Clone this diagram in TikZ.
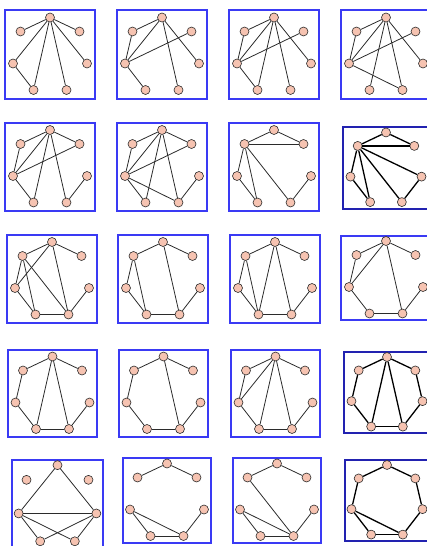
\documentclass[tikz,border=0pt]{standalone}
\usepackage{tikz}
\definecolor{kutuMavi}{HTML}{3A3AF4}
\definecolor{koyuMavi}{HTML}{2222B0}
\definecolor{somon}{HTML}{F6C3B1}
\definecolor{kenarGri}{HTML}{2B2B2B}
\tikzset{
  kutu/.style={kutuMavi,line width=1.2pt},
  koyukutu/.style={koyuMavi,line width=1.4pt},
  kenar/.style={kenarGri,line width=0.8pt},
  kalinkenar/.style={black,line width=1.3pt},
  tepe/.style={circle,draw=kenarGri,fill=somon,line width=0.6pt,minimum size=9pt,inner sep=0pt},
}
% #1 ad, #2 merkez, #3 olcek, #4/#5 kutu yari genislik/yukseklik, #6 kenar stili, #7 kutu stili, #8 kenarlar
\newcommand{\graf}[8]{%
  \begin{scope}[shift={#2}]
    \draw[#7] (-#4,-#5) rectangle (#4,#5);
    \begin{scope}[scale=#3]
      \foreach \i/\px/\py in {0/0/-37,1/-29.5/-23,2/29.5/-23,3/-37/9,4/37/9,5/-16.5/35.5,6/16.5/35.5}
        \node[tepe] (#1v\i) at (\px,\py) {};
    \end{scope}
    \foreach \a/\b in {#8}
      \draw[#6] (#1v\a) -- (#1v\b);
  \end{scope}}

\begin{document}
\begin{tikzpicture}[x=1pt,y=-1pt]
\useasboundingbox (0,0) rectangle (426,546);
% satir 1
\graf{a}{(50,54.5)}{1}{45}{44.5}{kenar}{kutu}{0/1,0/2,0/3,0/4,0/5,0/6,3/5}
\graf{b}{(162,54.5)}{1}{45}{44.5}{kenar}{kutu}{0/1,0/3,0/4,0/6,1/3,2/3,3/5}
\graf{c}{(274,54.5)}{1}{45}{44.5}{kenar}{kutu}{0/1,0/3,0/4,0/5,0/6,1/3,2/3,3/5}
\graf{d}{(386,54.5)}{1}{45}{44.5}{kenar}{kutu}{0/1,0/3,0/4,0/5,0/6,1/3,2/3,3/6}
% satir 2
\graf{e}{(50,167)}{1}{45}{44}{kenar}{kutu}{0/1,0/2,0/3,0/5,0/6,1/3,2/3,3/5,4/6}
\graf{f}{(162,167)}{1}{45}{44}{kenar}{kutu}{0/1,0/2,0/3,0/5,0/6,1/3,2/3,3/5,3/6,4/6}
\graf{g}{(274,167)}{1}{45}{44}{kenar}{kutu}{0/1,0/2,1/2,1/3,1/5,1/6,3/5,4/6}
\graf{h}{(386,168)}{0.96}{43}{41}{kalinkenar}{koyukutu}{0/1,0/2,1/2,1/3,1/5,1/6,1/4,3/5,4/6}
% satir 3
\graf{i}{(52,279)}{1}{45}{44}{kenar}{kutu}{0/1,0/2,0/3,0/6,1/3,1/5,1/6,3/5,5/6,4/6}
\graf{j}{(163,279)}{1}{45}{44}{kenar}{kutu}{0/1,0/2,0/6,1/3,1/5,3/5,5/6,4/6}
\graf{k}{(275,279)}{1}{45}{44}{kenar}{kutu}{0/1,0/2,0/5,0/6,1/3,1/5,3/5,5/6,4/6}
\graf{l}{(386,278)}{1}{45}{42}{kenar}{kutu}{0/1,0/2,0/3,0/6,1/3,3/5,5/6,4/6}
% satir 4
\graf{m}{(52.5,393.5)}{1}{44.5}{43.5}{kenar}{kutu}{0/1,0/2,0/5,0/6,1/3,3/5,5/6,4/6}
\graf{n}{(163.5,393.5)}{1}{44.5}{43.5}{kenar}{kutu}{0/1,0/2,0/6,1/3,3/5,5/6,4/6}
\graf{o}{(275.5,393.5)}{1}{44.5}{43.5}{kenar}{kutu}{0/1,0/2,0/3,0/5,0/6,1/3,3/5,5/6,4/6}
\graf{p}{(387,392.5)}{0.96}{43}{40.5}{kalinkenar}{koyukutu}{0/1,0/2,0/5,0/6,1/3,2/4,3/5,5/6,4/6}
% satir 5
\graf{q}{(57.5,504)}{1.05}{45.5}{44}{kenar}{kutu}{0/3,0/4,3/4,3/5,3/6,4/5,4/6}
\graf{r}{(167,500.5)}{1}{44}{42.5}{kenar}{kutu}{0/1,0/2,3/5,3/6,5/6,4/6}
\graf{s}{(277,500.5)}{1}{44}{42.5}{kenar}{kutu}{0/1,0/2,1/6,3/5,3/6,5/6,4/6}
\graf{t}{(387,500.5)}{0.96}{42}{40.5}{kalinkenar}{koyukutu}{0/1,0/2,1/3,2/4,3/5,3/6,5/6,4/6}
\end{tikzpicture}
\end{document}
